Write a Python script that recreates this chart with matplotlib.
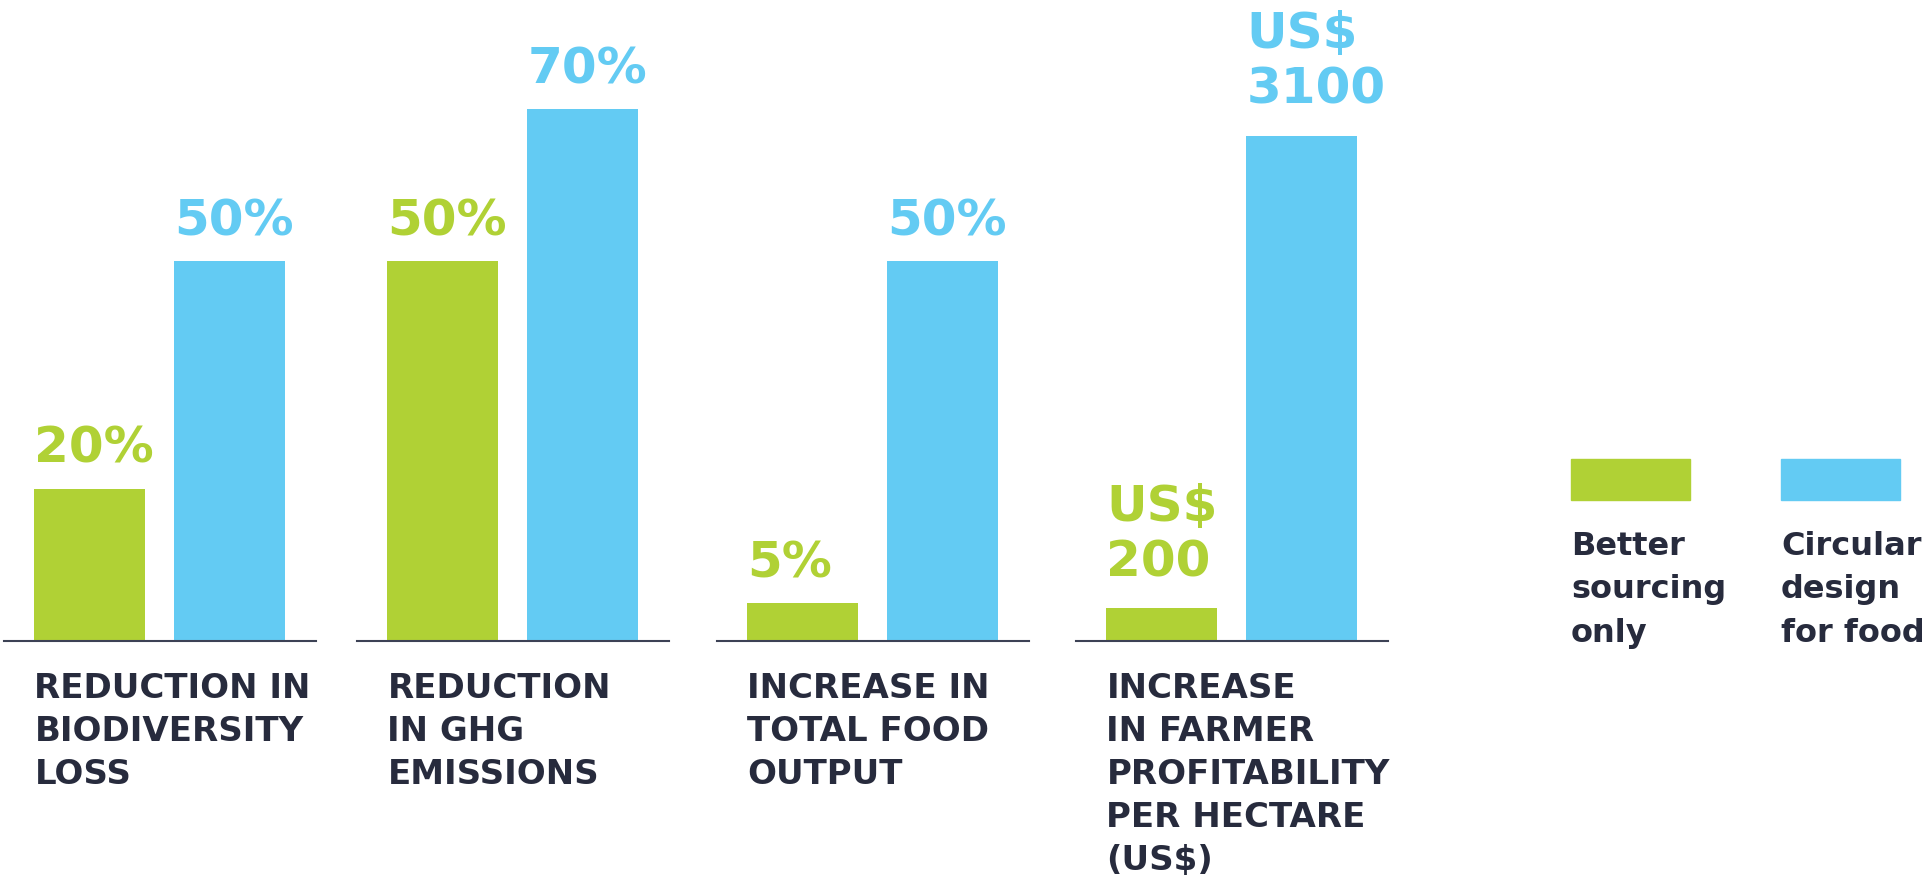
import matplotlib.pyplot as plt
from matplotlib.patches import Rectangle

# data
categories = [
    "REDUCTION IN\nBIODIVERSITY\nLOSS",
    "REDUCTION\nIN GHG\nEMISSIONS",
    "INCREASE IN\nTOTAL FOOD\nOUTPUT",
    "INCREASE\nIN FARMER\nPROFITABILITY\nPER HECTARE\n(US$)",
]
better_sourcing = [20, 50, 5, 200]
circular_design = [50, 70, 50, 3100]
better_labels = ["20%", "50%", "5%", "US$\n200"]
circular_labels = ["50%", "70%", "50%", "US$\n3100"]
series_names = ["Better\nsourcing\nonly", "Circular\ndesign\nfor food"]

GREEN = "#b0d135"
BLUE = "#63cbf3"
DARK = "#272b3d"
LINE = "#3d4255"

plt.rcParams['font.family'] = ['DejaVu Sans']

W, H = 1933, 879
fig = plt.figure(figsize=(W / 100, H / 100), dpi=100)

# panel geometry in pixels
panel_left = [4, 357, 717, 1076]
panel_w = 312
base_y = 642
ax_h = 620
px_per_unit = [7.6, 7.6, 7.6, 0.163]   # panels 1-3 in %, panel 4 in US$
bar_w = 0.793

for i, cat in enumerate(categories):
    ax = fig.add_axes([panel_left[i] / W, (H - base_y) / H, panel_w / W, ax_h / H])
    ax.set_xlim(-0.614, 1.617)
    ax.set_ylim(0, ax_h / px_per_unit[i])
    vals = [better_sourcing[i], circular_design[i]]
    labs = [better_labels[i], circular_labels[i]]
    ax.bar([0, 1], vals, width=bar_w, color=[GREEN, BLUE])
    ax.axhline(0, color=LINE, lw=1.5, clip_on=False)
    for x, v, lab, c in zip([0, 1], vals, labs, [GREEN, BLUE]):
        off = 17 + 6 * lab.count('\n')
        ax.annotate(lab, xy=(x - bar_w / 2, v), xytext=(0, off),
                    textcoords='offset pixels', ha='left', va='bottom',
                    color=c, fontsize=36, fontweight='bold', linespacing=1.2)
    ax.annotate(cat, xy=(-bar_w / 2, 0), xytext=(0, -30),
                textcoords='offset pixels', ha='left', va='top',
                fontsize=24.5, fontweight='bold', color=DARK,
                linespacing=1.38, annotation_clip=False)
    ax.axis('off')

# legend: colour box with text underneath
leg_left = [1571, 1781]
for x0, c, name in zip(leg_left, [GREEN, BLUE], series_names):
    fig.patches.append(Rectangle((x0 / W, (H - 501) / H), 119 / W, 41 / H,
                                 transform=fig.transFigure, color=c))
    fig.text(x0 / W, (H - 531) / H, name, ha='left', va='top',
             fontsize=23, fontweight='bold', color=DARK, linespacing=1.52)

fig.savefig('out.png', dpi=100)
